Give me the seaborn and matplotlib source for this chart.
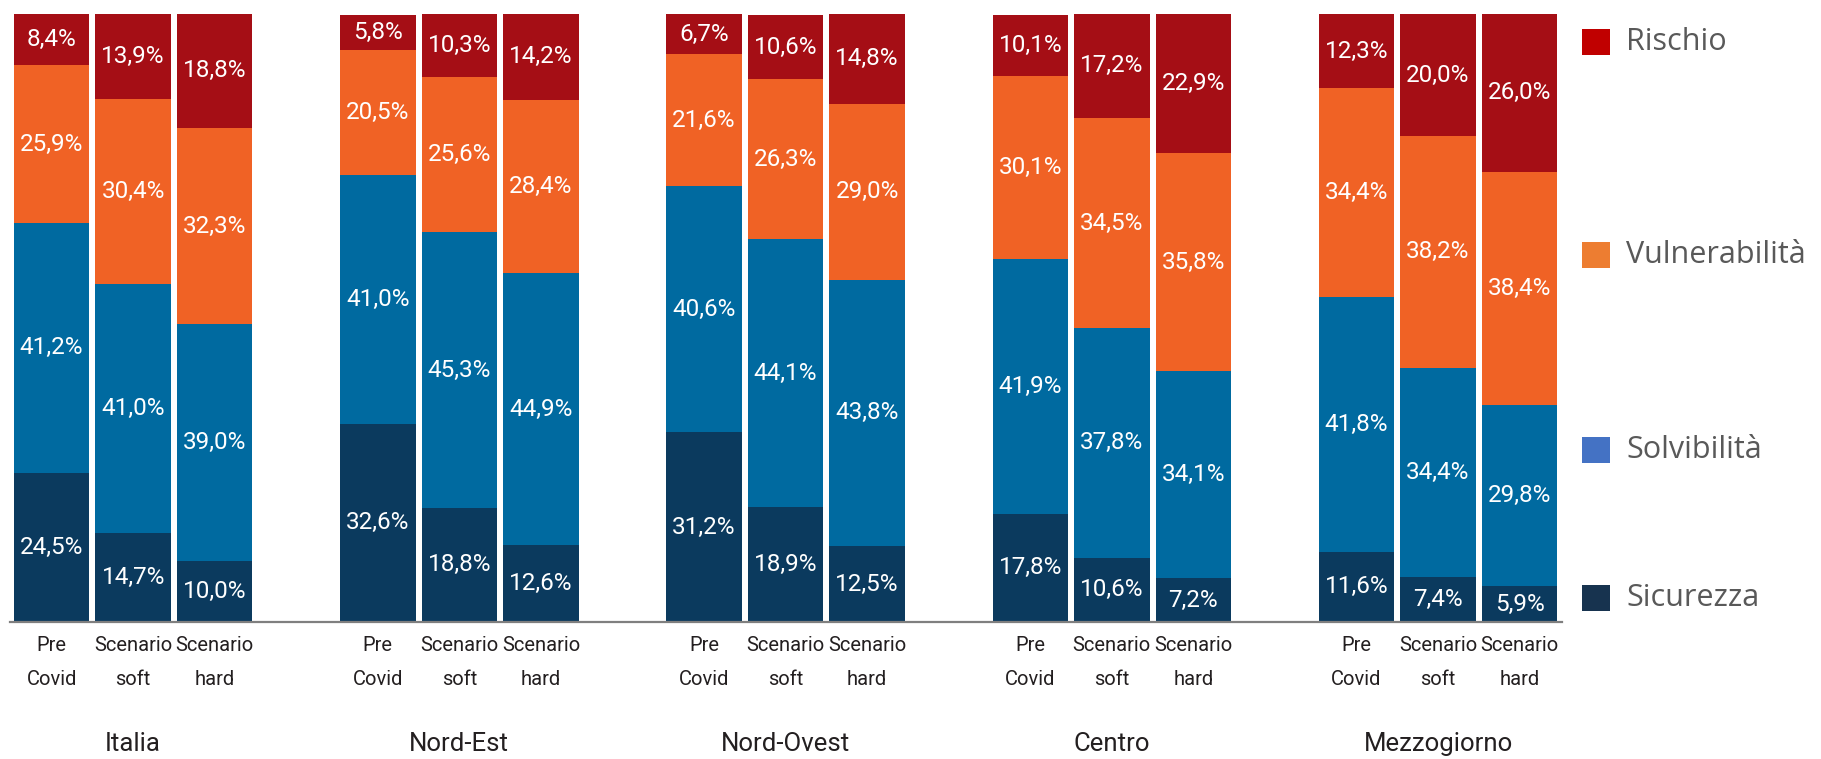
import numpy as np
import pandas as pd
import matplotlib.pyplot as plt
import seaborn as sns
from matplotlib.patches import Rectangle

# Data (shares, %), bottom -> top: Sicurezza, Solvibilita, Vulnerabilita, Rischio
groups = ["Italia", "Nord-Est", "Nord-Ovest", "Centro", "Mezzogiorno"]
scenarios = ["Pre\nCovid", "Scenario\nsoft", "Scenario\nhard"]
series = ["Sicurezza", "Solvibilità", "Vulnerabilità", "Rischio"]

sicurezza = [24.5, 14.7, 10.0, 32.6, 18.8, 12.6, 31.2, 18.9, 12.5, 17.8, 10.6, 7.2, 11.6, 7.4, 5.9]
solvibilita = [41.2, 41.0, 39.0, 41.0, 45.3, 44.9, 40.6, 44.1, 43.8, 41.9, 37.8, 34.1, 41.8, 34.4, 29.8]
vulnerabilita = [25.9, 30.4, 32.3, 20.5, 25.6, 28.4, 21.6, 26.3, 29.0, 30.1, 34.5, 35.8, 34.4, 38.2, 38.4]
rischio = [8.4, 13.9, 18.8, 5.8, 10.3, 14.2, 6.7, 10.6, 14.8, 10.1, 17.2, 22.9, 12.3, 20.0, 26.0]

bar_colors = ["#0b3a5e", "#006aa0", "#f06225", "#a50e15"]
legend_colors = ["#c00000", "#ed7d31", "#4472c4", "#17334f"]
legend_labels = ["Rischio", "Vulnerabilità", "Solvibilità", "Sicurezza"]

# positions: 4 units per group, 1 unit per bar
pos = np.array([g * 4 + j for g in range(len(groups)) for j in range(len(scenarios))], dtype=float)

df = pd.DataFrame({"pos": pos, "Sicurezza": sicurezza, "Solvibilità": solvibilita,
                   "Vulnerabilità": vulnerabilita, "Rischio": rischio})
cum = df[series].cumsum(axis=1)

sns.set_style("white")
narrow = ["Roboto", "DejaVu Sans"]
plt.rcParams["font.family"] = narrow

fig = plt.figure(figsize=(18.21, 7.59), dpi=100)
ax = fig.add_axes([10 / 1821, 137 / 759, 1552 / 1821, 608 / 759])

# stacked bars: draw cumulative totals from the top series down
for i in range(len(series) - 1, -1, -1):
    sns.barplot(x=df["pos"], y=cum[series[i]], color=bar_colors[i], native_scale=True,
                width=0.925, errorbar=None, saturation=1, linewidth=0, ax=ax)

# value labels
for i, s in enumerate(series):
    bottoms = cum[s] - df[s]
    for x, b, v in zip(df["pos"], bottoms, df[s]):
        ax.text(x, b + v / 2, f"{v:.1f}%".replace(".", ","), ha="center", va="center",
                color="white", fontsize=17.5, family=narrow)

ax.set_xlim(-0.51, 18.52)
ax.set_ylim(0, 100.05)
ax.set_xlabel("")
ax.set_ylabel("")
ax.set_yticks([])
ax.set_xticks(pos)
ax.set_xticklabels(scenarios * len(groups), fontsize=14.5, color="#231f20", linespacing=2.0)
ax.tick_params(axis="x", length=0, pad=10)
for side in ["left", "right", "top"]:
    ax.spines[side].set_visible(False)
ax.spines["bottom"].set_color("#7f7f7f")
ax.spines["bottom"].set_linewidth(1.6)

# group labels
for g, name in enumerate(groups):
    ax.text(g * 4 + 1, -0.2, name, transform=ax.get_xaxis_transform(), ha="center",
            va="center", fontsize=18.5, color="#231f20")

# legend
for lab, col, yc in zip(legend_labels, legend_colors, [42, 255, 450, 598]):
    fig.patches.append(Rectangle((1582 / 1821, 1 - (yc + 13) / 759), 28 / 1821, 26 / 759,
                                 transform=fig.transFigure, facecolor=col, edgecolor="none"))
    fig.text(1626 / 1821, 1 - yc / 759, lab, ha="left", va="center", fontsize=22,
             color="#595959", family=["Open Sans", "DejaVu Sans"])

fig.savefig("out.png", dpi=100)
